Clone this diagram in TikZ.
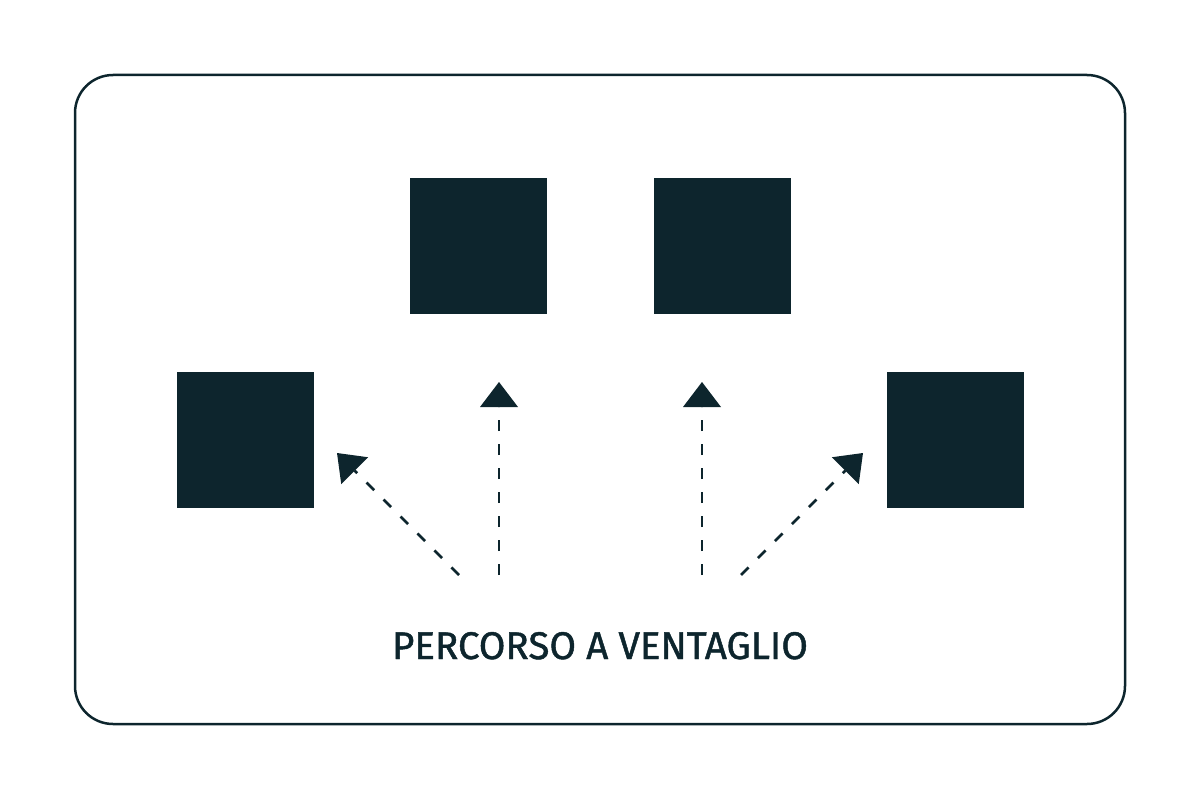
\documentclass[tikz,border=0pt]{standalone}
\usepackage{fontspec}
\setmainfont{Fira Sans}
\newfontfamily\labfont[FakeBold=1.2]{Fira Sans}
\usetikzlibrary{arrows.meta}
\definecolor{ink}{HTML}{0D252D}
\begin{document}
\begin{tikzpicture}[x=1pt,y=-1pt,
  blk/.style={fill=ink,draw=none,minimum width=137pt,minimum height=136pt,inner sep=0pt,anchor=north west},
  fan/.style={draw=ink,line width=2.8pt,dash pattern=on 10.7pt off 13.3pt,-{Triangle[length=25pt,width=38pt,line width=0pt]}}]
\useasboundingbox (0,0) rectangle (1200,800);
\draw[ink,line width=2.5pt,rounded corners=38pt] (75,75) rectangle (1125,724);
\node[blk] (tl) at (410,178) {};
\node[blk] (tr) at (654,178) {};
\node[blk] (ml) at (177,372) {};
\node[blk] (mr) at (887,372) {};
\coordinate (s1) at (459,575); \coordinate (t1) at (337,453);
\coordinate (s2) at (499,575); \coordinate (t2) at (499,382);
\coordinate (s3) at (702,575); \coordinate (t3) at (702,382);
\coordinate (s4) at (741,575); \coordinate (t4) at (863,453);
\draw[fan] (s1) -- (t1);
\draw[fan] (s2) -- (t2);
\draw[fan] (s3) -- (t3);
\draw[fan] (s4) -- (t4);
\node[text=ink,font=\labfont\fontsize{38.5}{46}\selectfont,anchor=base] (lab) at (600,659) {PERCORSO A VENTAGLIO};
\end{tikzpicture}
\end{document}
